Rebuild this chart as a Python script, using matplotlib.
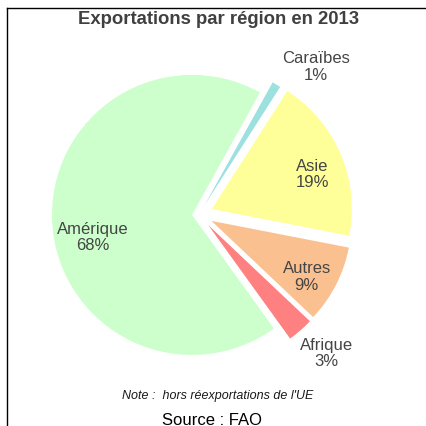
import matplotlib.pyplot as plt
from matplotlib.lines import Line2D

# donnees
regions = ["Caraïbes", "Asie", "Autres", "Afrique", "Amérique"]
parts = [1, 19, 9, 3, 68]
couleurs = ["#9de0e0", "#ffff99", "#fac090", "#ff8080", "#ccffcc"]
ecarts = [0.08, 0.1, 0.1, 0.1, 0.05]

# positions des etiquettes (unites du camembert)
pos_etiquettes = [(0.835, 1.06), (0.81, 0.295), (0.77, -0.44), (0.91, -0.985), (-0.76, -0.16)]

plt.rcParams["font.family"] = ["Liberation Sans", "DejaVu Sans"]

fig = plt.figure(figsize=(4.26, 4.27), dpi=100)
ax = fig.add_axes([0, 0, 1, 1])

cx, cy, r = 199, 215.5, 140
ax.axis("off")

ax.pie(parts, colors=couleurs, explode=ecarts, startangle=61, counterclock=False,
       radius=1, wedgeprops={"linewidth": 0})
ax.set_xlim(-cx / r, (426 - cx) / r)
ax.set_ylim((cy - 427) / r, cy / r)
ax.set_aspect("auto")

for nom, p, (x, y) in zip(regions, parts, pos_etiquettes):
    ax.text(x, y, f"{nom}\n{p}%", ha="center", va="center", fontsize=12,
            color="#454545", linespacing=1.1)

fig.text(219 / 426, 1 - 20 / 427, "Exportations par région en 2013", ha="center", va="center",
         fontsize=13.3, fontweight="bold", color="#404040")
fig.text(218 / 426, 1 - 396 / 427, "Note :  hors réexportations de l'UE", ha="center", va="center",
         fontsize=9, style="italic", color="#1a1a1a")
fig.text(212 / 426, 1 - 421 / 427, "Source : FAO", ha="center", va="center",
         fontsize=12, color="black")

# cadre
fig.add_artist(Line2D([6.5 / 426, 1], [1 - 8.5 / 427, 1 - 8.5 / 427], color="black", lw=1))
fig.add_artist(Line2D([6.5 / 426, 6.5 / 426], [0, 1 - 8.5 / 427], color="black", lw=1))

plt.savefig("out.png", dpi=100)
